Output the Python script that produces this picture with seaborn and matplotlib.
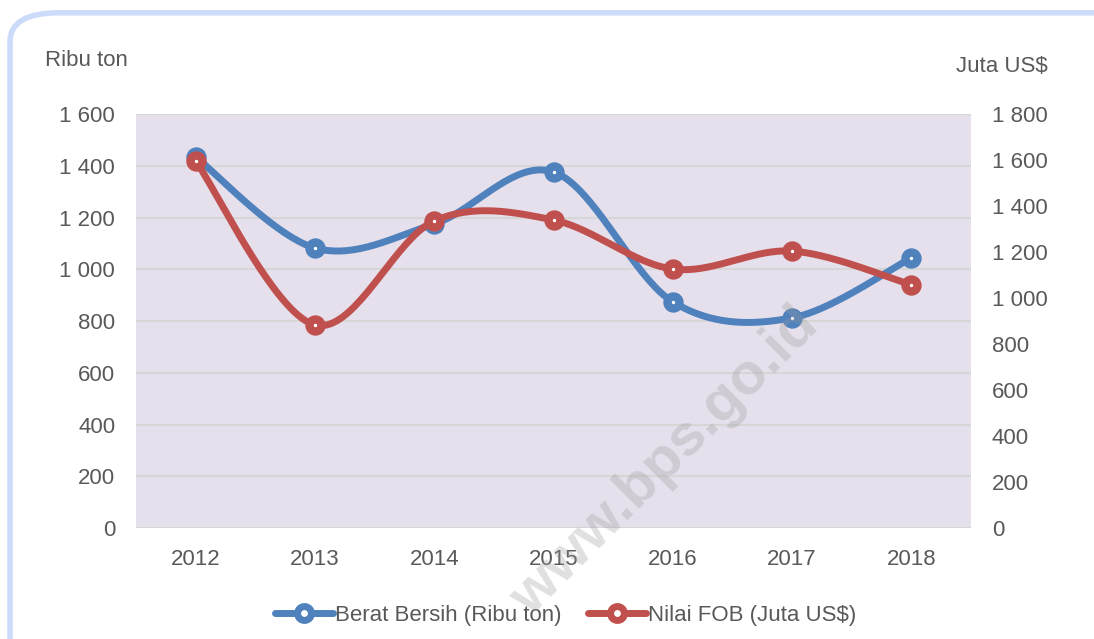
import numpy as np
import pandas as pd
import matplotlib
matplotlib.use("Agg")
import matplotlib.pyplot as plt
from matplotlib.lines import Line2D
from matplotlib.patches import FancyBboxPatch
from matplotlib.ticker import FuncFormatter
import seaborn as sns

# ==========================================
# Data
# ==========================================

years = [2012, 2013, 2014, 2015, 2016, 2017, 2018]
berat_bersih = [1434, 1082, 1175, 1376, 874, 812, 1044]   # Ribu ton
nilai_fob = [1596, 883, 1335, 1339, 1126, 1204, 1057]     # Juta US$

left_ticks = [0, 200, 400, 600, 800, 1000, 1200, 1400, 1600]
right_ticks = [0, 200, 400, 600, 800, 1000, 1200, 1400, 1600, 1800]

blue = "#4f81bd"
red = "#c0504d"
text_color = "#595959"

# ==========================================
# Smoothed line (Excel-like bezier)
# ==========================================

def smooth(xs, ys, n=40):
    xs = np.asarray(xs, float)
    ys = np.asarray(ys, float)
    px = np.concatenate([[xs[0]], xs, [xs[-1]]])
    py = np.concatenate([[ys[0]], ys, [ys[-1]]])
    out_x, out_y = [], []
    t = np.linspace(0, 1, n)
    for i in range(1, len(px) - 2):
        x0, x1, x2, x3 = px[i - 1], px[i], px[i + 1], px[i + 2]
        y0, y1, y2, y3 = py[i - 1], py[i], py[i + 1], py[i + 2]
        c1x, c1y = x1 + (x2 - x0) / 6, y1 + (y2 - y0) / 6
        c2x, c2y = x2 - (x3 - x1) / 6, y2 - (y3 - y1) / 6
        bx = (1 - t) ** 3 * x1 + 3 * (1 - t) ** 2 * t * c1x + 3 * (1 - t) * t ** 2 * c2x + t ** 3 * x2
        by = (1 - t) ** 3 * y1 + 3 * (1 - t) ** 2 * t * c1y + 3 * (1 - t) * t ** 2 * c2y + t ** 3 * y2
        out_x.extend(bx)
        out_y.extend(by)
    return pd.DataFrame({"x": out_x, "y": out_y})

# ==========================================
# Figure
# ==========================================

sns.set_theme(style="white")
plt.rcParams["font.family"] = ["Liberation Sans Narrow", "Liberation Sans", "DejaVu Sans"]

fig = plt.figure(figsize=(10.94, 6.39), dpi=100)

# rounded border
border = FancyBboxPatch((10 / 1094, -0.2), 1.2, 1.18,
                        boxstyle="round,pad=0,rounding_size=0.045",
                        transform=fig.transFigure, fill=False,
                        edgecolor="#cddbfb", linewidth=4, zorder=0)
fig.patches.append(border)

ax = fig.add_axes([136 / 1094, 1 - 528 / 639, (971 - 136) / 1094, (528 - 114) / 639])
ax2 = ax.twinx()

ax.set_facecolor("#e5e0ec")
ax2.patch.set_visible(False)

df = pd.DataFrame({"year": years, "berat": berat_bersih, "fob": nilai_fob})
sb = smooth(years, berat_bersih)
sf = smooth(years, nilai_fob)

sns.lineplot(data=sb, x="x", y="y", ax=ax, color=blue, linewidth=5, sort=False, zorder=3)
sns.scatterplot(data=df, x="year", y="berat", ax=ax, color="white", edgecolor=blue,
                s=75, linewidth=6, zorder=4)

sns.lineplot(data=sf, x="x", y="y", ax=ax2, color=red, linewidth=5, sort=False, zorder=3)
sns.scatterplot(data=df, x="year", y="fob", ax=ax2, color="white", edgecolor=red,
                s=75, linewidth=6, zorder=4)

ax.set_xlim(2011.5, 2018.5)
ax.set_ylim(0, 1600)
ax2.set_ylim(0, 1800)
ax.set_yticks(left_ticks)
ax2.set_yticks(right_ticks)
ax.set_xticks(years)

fmt = FuncFormatter(lambda v, p: f"{int(v):,}".replace(",", " "))
ax.yaxis.set_major_formatter(fmt)
ax2.yaxis.set_major_formatter(fmt)

ax.grid(axis="y", color="#d6d6d6", linewidth=1.5)
ax.grid(axis="x", visible=False)
ax2.grid(False)

for a in (ax, ax2):
    for s in a.spines.values():
        s.set_visible(False)
    a.set_xlabel("")
    a.set_ylabel("")

ax.tick_params(axis="both", length=0, labelsize=16, colors=text_color)
ax.tick_params(axis="y", pad=15)
ax.tick_params(axis="x", pad=15)
ax2.tick_params(axis="y", length=0, labelsize=16, colors=text_color, pad=15)

fig.text(45 / 1094, 1 - 60 / 639, "Ribu ton", fontsize=16, color=text_color, va="center", ha="left")
fig.text(1048 / 1094, 1 - 66 / 639, "Juta US$", fontsize=16, color=text_color, va="center", ha="right")

# watermark
fig.text(665 / 1094, 1 - 462 / 639, "www.bps.go.id", fontsize=42, fontweight="bold",
         family=["Liberation Sans", "DejaVu Sans"], color="#9a9a9a", alpha=0.3,
         rotation=45, ha="center", va="center", zorder=10)

# legend
handles = [
    Line2D([0], [0], color=blue, linewidth=5, marker="o", markersize=10,
           markerfacecolor="white", markeredgecolor=blue, markeredgewidth=5),
    Line2D([0], [0], color=red, linewidth=5, marker="o", markersize=10,
           markerfacecolor="white", markeredgecolor=red, markeredgewidth=5),
]
fig.legend(handles, ["Berat Bersih (Ribu ton)", "Nilai FOB (Juta US$)"],
           loc="center", bbox_to_anchor=(566 / 1094, 1 - 615 / 639), ncol=2,
           frameon=False, fontsize=16, handlelength=2.6, handletextpad=0.1,
           columnspacing=1.2, labelcolor=text_color)

fig.savefig("out.png", dpi=100)
